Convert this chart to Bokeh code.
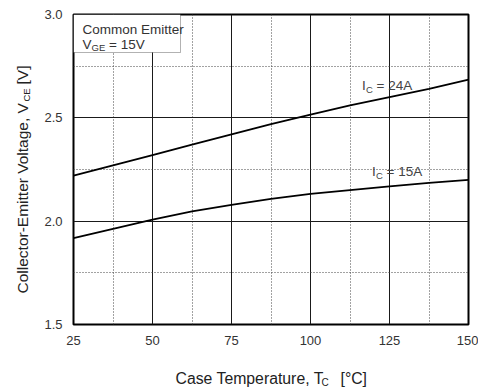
import math
from bokeh.plotting import figure
from bokeh.models import FixedTicker, Label, BoxAnnotation, NumeralTickFormatter, Range1d
from bokeh.embed import file_html
from bokeh.resources import INLINE

# ---- data ----
temps = [25, 37.5, 50, 62.5, 75, 87.5, 100, 112.5, 125, 137.5, 150]
vce_24a = [2.22, 2.27, 2.32, 2.37, 2.42, 2.47, 2.515, 2.56, 2.60, 2.64, 2.685]
vce_15a = [1.918, 1.963, 2.008, 2.047, 2.079, 2.108, 2.132, 2.15, 2.168, 2.185, 2.20]
x_major = [25, 50, 75, 100, 125, 150]
x_minor = [37.5, 62.5, 87.5, 112.5, 137.5]
y_major = [1.5, 2.0, 2.5, 3.0]
y_minor = [1.75, 2.25, 2.75]

W, H = 478, 387
L, R, T, B = 73, 10, 14, 63
FONT = "Liberation Sans"

p = figure(width=W, height=H, output_backend="svg", toolbar_location=None,
           x_range=Range1d(25, 150), y_range=Range1d(1.5, 3.0),
           min_border_left=L, min_border_right=R, min_border_top=T, min_border_bottom=B)
p.background_fill_color = "white"
p.border_fill_color = "white"
p.outline_line_color = "black"
p.outline_line_width = 2

fw, fh = W - L - R, H - T - B
def dx(px):
    return 25 + (px - L) * 125.0 / fw
def dy(py):
    return 3.0 - (py - T) * 1.5 / fh

for ax in (p.xaxis[0], p.yaxis[0]):
    ax.axis_line_color = None
    ax.major_tick_line_color = None
    ax.minor_tick_line_color = None
    ax.major_tick_out = 0
    ax.minor_tick_out = 0
    ax.major_label_text_font = FONT
    ax.major_label_text_font_size = "13px"
    ax.major_label_text_color = "#333333"
    ax.major_label_standoff = 11
p.xaxis.ticker = FixedTicker(ticks=x_major, minor_ticks=x_minor)
p.yaxis.ticker = FixedTicker(ticks=y_major, minor_ticks=y_minor)
p.yaxis.formatter = NumeralTickFormatter(format="0.0")

for g in (p.xgrid[0], p.ygrid[0]):
    g.grid_line_color = "#1a1a1a"
    g.grid_line_width = 1
    g.minor_grid_line_color = "#444444"
    g.minor_grid_line_dash = "1 2"
    g.minor_grid_line_width = 1
p.xgrid.ticker = FixedTicker(ticks=x_major, minor_ticks=x_minor)
p.ygrid.ticker = FixedTicker(ticks=y_major, minor_ticks=y_minor)

p.line(temps, vce_24a, line_color="black", line_width=1.8)
p.line(temps, vce_15a, line_color="black", line_width=1.8)

def mk(px, py, text, size, color="#333333", angle=0.0, **extra):
    return Label(x=dx(px), y=dy(py), text=text, text_font=FONT, text_font_size=f"{size}px",
                 text_color=color, text_align="left", text_baseline="alphabetic",
                 angle=angle, **extra)

def lab(px, py, text, size, color="#333333", angle=0.0, place="center"):
    p.add_layout(mk(px, py, text, size, color, angle), place)

# legend box
p.add_layout(BoxAnnotation(left=dx(L), right=dx(180), top=dy(T), bottom=dy(52),
                           fill_color="white", fill_alpha=1.0, line_color="black", line_width=1))
lab(82, 28.5, "Common Emitter", 13.5)
lab(82, 43.5, "V", 13.5)
lab(91, 47, "GE", 9.5)
lab(108.5, 43.5, "= 15V", 13.5)

# curve annotations: white backing first, then text
ann = [
    (361.5, 85, "I", 13.5), (365.5, 89, "C", 9.5), (376, 85, "= 24A", 13.5),
    (371.5, 171, "I", 13.5), (375.5, 175, "C", 9.5), (386, 171, "= 15A", 13.5),
]
for px, py, t, s in ann:
    p.add_layout(mk(px, py, t, s, "#444444", background_fill_color="white", text_alpha=0.0))
for px, py, t, s in ann:
    lab(px, py, t, s, "#444444")

# x axis title (labels in side panels so that they are not clipped to the frame)
lab(175, 378, "Case Temperature, T", 15.8, "#222222", place="below")
lab(321, 382, "C", 10, "#222222", place="right")
lab(340, 378, "[\u00b0C]", 15.8, "#222222", place="below")

# y axis title (rotated)
ang = math.pi / 2
lab(22, 293, "Collector-Emitter Voltage, V", 15.5, "#222222", angle=ang, place="left")
lab(26, 101, "CE", 9.5, "#222222", angle=ang, place="above")
lab(22, 84, "[V]", 15.5, "#222222", angle=ang, place="left")

open("out.html", "w").write(file_html(p, INLINE))
